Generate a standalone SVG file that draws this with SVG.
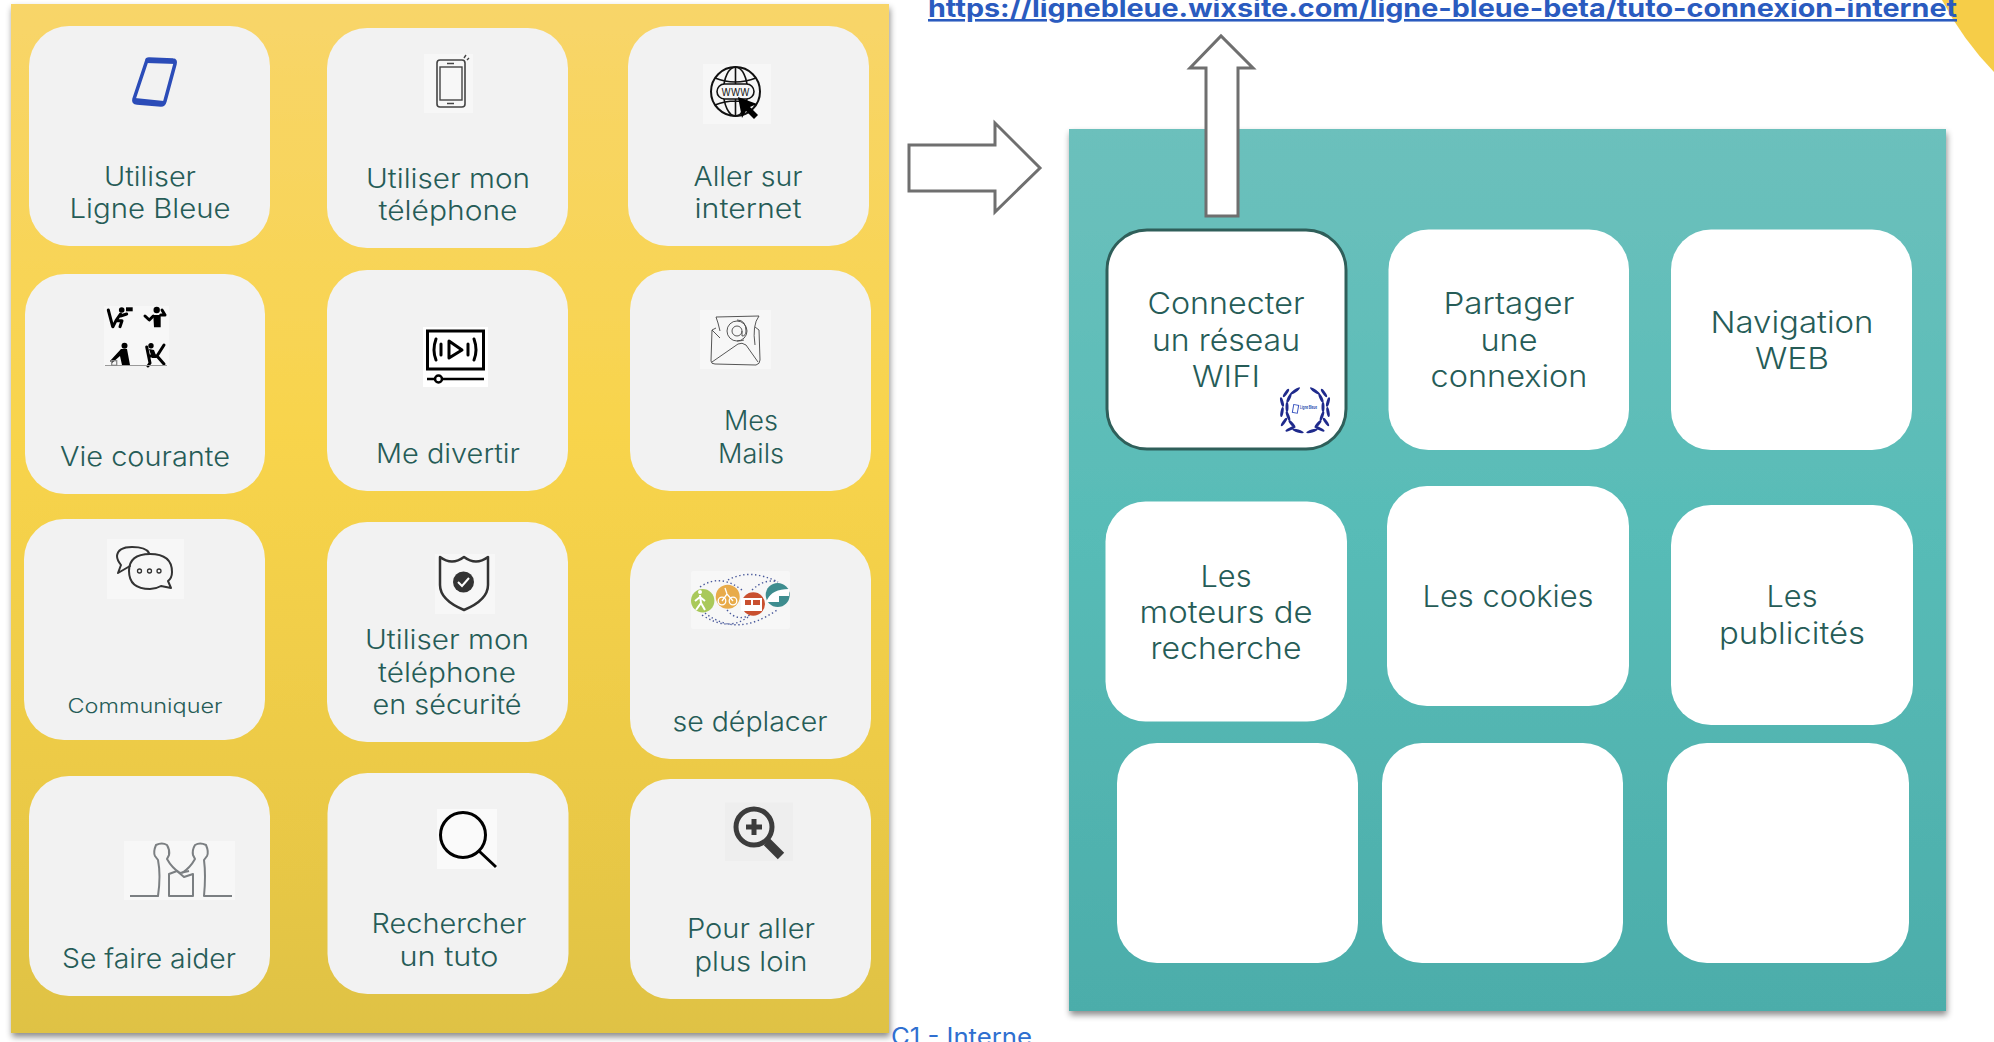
<svg xmlns="http://www.w3.org/2000/svg" width="1994" height="1042" viewBox="0 0 1994 1042">
<style>
text{font-family:"Inter","Liberation Sans",sans-serif}
.l{font-size:27px;font-weight:300;fill:#265c57;text-anchor:middle}
.t{font-size:30px}
.y{fill:#f2f2f2}
.w{fill:#fff}
.b{fill:#f7f7f7}
.ln{fill:none;stroke:#333;stroke-width:2;stroke-linecap:round;stroke-linejoin:round}
.k{fill:none;stroke:#000;stroke-width:3;stroke-linecap:round;stroke-linejoin:round}
.f{fill:#000}
.arrow{fill:#fff;stroke:#6f6f6f;stroke-width:3}
.d{fill:none;stroke:#4a5a9c;stroke-width:1.4;stroke-dasharray:1.4 2.6}
</style>
<defs>
<linearGradient id="gy" x1="0" y1="0" x2="0" y2="1"><stop offset="0" stop-color="#f8d569"/><stop offset=".42" stop-color="#f8d44c"/><stop offset=".75" stop-color="#ecca46"/><stop offset="1" stop-color="#dfc244"/></linearGradient>
<linearGradient id="gt" x1="0" y1="0" x2="0" y2="1"><stop offset="0" stop-color="#6cc0bc"/><stop offset=".45" stop-color="#58bcb7"/><stop offset="1" stop-color="#4cadaa"/></linearGradient>
<filter id="sh" x="-3%" y="-3%" width="106%" height="106%"><feDropShadow dx="1" dy="4" stdDeviation="3" flood-color="#000" flood-opacity=".45"/></filter>
<g id="wside" fill="#1f2a8c">
<ellipse cx="-7" cy="20" rx="6" ry="1.500" transform="rotate(18 -7 20)"/>
<ellipse cx="-15" cy="18" rx="5" ry="1.500" transform="rotate(-25 -15 18)"/>
<ellipse cx="-13" cy="13" rx="5" ry="1.500" transform="rotate(50 -13 13)"/>
<ellipse cx="-21" cy="11" rx="5" ry="1.500" transform="rotate(-55 -21 11)"/>
<ellipse cx="-17" cy="5" rx="5" ry="1.500" transform="rotate(70 -17 5)"/>
<ellipse cx="-23" cy="1" rx="5" ry="1.500" transform="rotate(-80 -23 1)"/>
<ellipse cx="-18" cy="-4" rx="5" ry="1.500" transform="rotate(90 -18 -4)"/>
<ellipse cx="-23" cy="-9" rx="5" ry="1.500" transform="rotate(75 -23 -9)"/>
<ellipse cx="-16" cy="-13" rx="5" ry="1.500" transform="rotate(115 -16 -13)"/>
<ellipse cx="-19" cy="-18" rx="5" ry="1.500" transform="rotate(125 -19 -18)"/>
<ellipse cx="-10" cy="-20" rx="6" ry="1.500" transform="rotate(145 -10 -20)"/>
</g>
</defs>

<path id="corner-arc" d="M1942 0Q1963 40 1994 72V0Z" fill="#f6cd48"/>
<rect id="yellow-panel" x="11" y="4" width="878" height="1029" fill="url(#gy)" filter="url(#sh)"/>
<rect id="teal-panel" x="1069" y="129" width="877" height="882" fill="url(#gt)" filter="url(#sh)"/>

<text id="url" x="928" y="17" font-size="25.500" font-weight="700" fill="#2a5bbf" text-decoration="underline" textLength="1029" lengthAdjust="spacingAndGlyphs">https://lignebleue.wixsite.com/ligne-bleue-beta/tuto-connexion-internet</text>
<text id="classification" x="891" y="1045" font-size="24" fill="#2f6fd0" textLength="141" lengthAdjust="spacingAndGlyphs">C1 - Interne</text>

<g id="connectors">
<path class="arrow" d="M909 145H995V123L1040 168L995 212V191H909Z"/>
<path class="arrow" d="M1206 216V68H1190L1221 36L1253 68H1238V216Z"/>
</g>

<g id="card-utiliser-ligne-bleue">
<rect class="y" x="29" y="26" width="241" height="220" rx="40"/>
<path d="M147 60Q147 59 149 59L173 60Q176 60 175 64L165 101Q164 105 161 105L137 103Q133 103 134 99Z" fill="none" stroke="#2b4cb8" stroke-width="3.500" stroke-linejoin="round"/>
<path d="M135 98L164 101L163 106L134 103ZM147 59L176 60V64L146 63Z" fill="#2b4cb8"/>
<text class="l"><tspan x="150" y="186" textLength="92" lengthAdjust="spacingAndGlyphs">Utiliser</tspan></text>
<text class="l"><tspan x="150" y="218" textLength="161" lengthAdjust="spacingAndGlyphs">Ligne Bleue</tspan></text>
</g>

<g id="card-utiliser-mon-telephone">
<rect class="y" x="327" y="28" width="241" height="220" rx="40"/>
<rect class="b" x="424" y="54" width="49" height="59"/>
<rect x="437" y="60" width="28" height="47" rx="3" fill="none" stroke="#444" stroke-width="1.600"/>
<rect x="440" y="67" width="22" height="33" fill="none" stroke="#444" stroke-width="1.400"/>
<path d="M447 63.500H454M447 103.500H454M464 58L466 55M467 60L469 58" stroke="#444" stroke-width="1.400"/>
<text class="l"><tspan x="448" y="188" textLength="164" lengthAdjust="spacingAndGlyphs">Utiliser mon</tspan></text>
<text class="l"><tspan x="448" y="220" textLength="139" lengthAdjust="spacingAndGlyphs">téléphone</tspan></text>
</g>

<g id="card-aller-sur-internet">
<rect class="y" x="628" y="26" width="241" height="220" rx="40"/>
<rect class="b" x="703" y="64" width="68" height="60"/>
<circle cx="735.500" cy="91.500" r="24.500" fill="none" stroke="#111" stroke-width="2"/>
<ellipse cx="735.500" cy="91.500" rx="12" ry="24.500" fill="none" stroke="#111" stroke-width="1.600"/>
<path d="M735.500 67V116M715 78Q735 86 756 78M715 105Q735 97 756 105" fill="none" stroke="#111" stroke-width="1.600"/>
<rect x="717" y="84" width="37" height="15" rx="7.500" fill="#f7f7f7" stroke="#111" stroke-width="1.600"/>
<text x="735.500" y="96" font-size="11" text-anchor="middle" fill="#111" textLength="28" lengthAdjust="spacingAndGlyphs">WWW</text>
<path d="M738 97L742 118L746 111L754 119L758 115L750 107L757 104Z" fill="#000"/>
<text class="l"><tspan x="748" y="186" textLength="109" lengthAdjust="spacingAndGlyphs">Aller sur</tspan></text>
<text class="l"><tspan x="748" y="218" textLength="107" lengthAdjust="spacingAndGlyphs">internet</tspan></text>
</g>

<g id="card-vie-courante">
<rect class="y" x="25" y="274" width="240" height="220" rx="40"/>
<rect class="b" x="104" y="306" width="65" height="60"/>
<g class="f">
<circle cx="121.700" cy="310" r="2.800"/><circle cx="156.700" cy="310" r="3.200"/><circle cx="124.500" cy="345.700" r="3"/><circle cx="151" cy="345.700" r="2.700"/>
<rect x="126" y="307.300" width="6.700" height="4"/>
<path d="M153.300 315H160.700V327.300H154Z"/>
<path d="M121 349H127L130 365H122L120 356L112 363L110 361Z"/>
<path d="M149 349L154 350L157 358H152Z"/>
</g>
<path class="k" stroke-width="2" d="M108.300 310L112.700 326.700M120.500 314L116 320.700H122L120 326.700M116 320.700L113 326.700M120.500 316L126.700 314M145 316L149.300 320L153.300 316M160.700 315L165 315L162 310M146.700 347L150 363M150 356H157L164 364M157 356L164 345M150 363L148 366"/>
<path d="M105 365.500H167" stroke="#999" stroke-width="1"/>
<rect x="111.700" y="360.700" width="5" height="4.600" fill="none" stroke="#888" stroke-width="1.300"/>
<text class="l"><tspan x="145" y="466" textLength="170" lengthAdjust="spacingAndGlyphs">Vie courante</tspan></text>
</g>

<g id="card-me-divertir">
<rect class="y" x="327" y="270" width="241" height="221" rx="40"/>
<rect fill="#fff" x="423" y="327" width="65" height="60"/>
<rect x="427.500" y="331" width="56" height="38" fill="none" stroke="#000" stroke-width="3"/>
<path d="M449 341V358L462 350Z" fill="none" stroke="#000" stroke-width="3" stroke-linejoin="round"/>
<path class="k" d="M441 344V355M468 344V355M436 339Q432 350 436 360M474 339Q478 350 474 360" stroke-width="2.200"/>
<path d="M427 379H484" stroke="#000" stroke-width="2.500"/>
<circle cx="438.500" cy="379" r="3.500" fill="#fff" stroke="#000" stroke-width="2.500"/>
<text class="l"><tspan x="448" y="463" textLength="144" lengthAdjust="spacingAndGlyphs">Me divertir</tspan></text>
</g>

<g id="card-mes-mails">
<rect class="y" x="630" y="270" width="241" height="221" rx="40"/>
<rect class="b" x="700" y="310" width="71" height="59"/>
<g fill="none" stroke="#444" stroke-width=".9">
<path d="M720 331Q718 322 716 317L759 316Q752 325 755 345"/>
<path d="M712 330L711 361Q711 364 715 364L756 365Q760 364 760 360L759 330L755 327M720 338L712 330L716 328M712 362L738 344Q742 342 746 345L758 362"/>
<circle cx="737" cy="331" r="10"/><circle cx="737" cy="331" r="5"/>
<path d="M742 331V336Q746 336 746 331Q746 320 737 320M737 341Q741 341 744 340"/>
</g>
<text class="l"><tspan x="751" y="430" textLength="54" lengthAdjust="spacingAndGlyphs">Mes</tspan></text>
<text class="l"><tspan x="751" y="463" textLength="66" lengthAdjust="spacingAndGlyphs">Mails</tspan></text>
</g>

<g id="card-communiquer">
<rect class="y" x="24" y="519" width="241" height="221" rx="40"/>
<rect class="b" x="107" y="539" width="77" height="60"/>
<path class="ln" stroke-width="1.500" d="M130 566L118 573L121 565Q117 560 117 556Q118 547 132 547Q146 547 149 553"/>
<path class="ln" stroke-width="1.500" d="M150 554Q172 554 172 572Q172 578 168 581L171 588L161 586Q156 589 150 589Q129 589 129 571Q129 554 150 554Z"/>
<g fill="none" stroke="#333" stroke-width="1.300"><circle cx="139.500" cy="571" r="2"/><circle cx="149.500" cy="571" r="2"/><circle cx="159" cy="571" r="2"/></g>
<text class="l" style="font-size:20px"><tspan x="145" y="712.500" textLength="155" lengthAdjust="spacingAndGlyphs">Communiquer</tspan></text>
</g>

<g id="card-securite">
<rect class="y" x="327" y="522" width="241" height="220" rx="40"/>
<rect class="b" x="435" y="554" width="60" height="60"/>
<path d="M440 557Q452 566 464 557Q476 566 488 557V585Q488 600 464 610Q440 600 440 585Z" fill="none" stroke="#333" stroke-width="2.500" stroke-linejoin="round"/>
<circle cx="463.500" cy="582" r="10.500" fill="#333"/>
<path d="M458 582L462 586L469 578" fill="none" stroke="#fff" stroke-width="2"/>
<text class="l"><tspan x="447" y="649" textLength="164" lengthAdjust="spacingAndGlyphs">Utiliser mon</tspan></text>
<text class="l"><tspan x="447" y="682" textLength="138" lengthAdjust="spacingAndGlyphs">téléphone</tspan></text>
<text class="l"><tspan x="447" y="714" textLength="149" lengthAdjust="spacingAndGlyphs">en sécurité</tspan></text>
</g>

<g id="card-se-deplacer">
<rect class="y" x="630" y="539" width="241" height="220" rx="40"/>
<rect x="691" y="571" width="99" height="58" rx="2" fill="#f7f7f7"/>
<path class="d" d="M700 587Q720 573 742 590"/>
<path class="d" d="M728 580Q750 568 778 582"/>
<path class="d" d="M702 615Q728 632 748 617"/>
<path class="d" d="M705 613Q737 638 777 610"/>
<path class="d" d="M727 610Q737 622 750 615"/>
<path class="d" d="M752 590Q765 578 778 582"/>
<circle cx="702.700" cy="600.700" r="11.700" fill="#a9c95a"/>
<circle cx="727.700" cy="596.700" r="12" fill="#e8ab4a"/>
<circle cx="753.300" cy="604" r="11.700" fill="#c9502f"/>
<circle cx="777.700" cy="595" r="12" fill="#3e8d8f"/>
<circle cx="700" cy="592" r="2" fill="#fff"/>
<path d="M700 595L701 603M701 603L696 610M701 603L705 610M700 597L695 601M700 597L705 601" stroke="#fff" stroke-width="2" fill="none"/>
<g fill="none" stroke="#fff" stroke-width="1.300"><circle cx="722" cy="601" r="3.800"/><circle cx="733" cy="601" r="3.800"/><path d="M722 601L727 594L733 601M727 594L725 588"/></g>
<path d="M741 598H762V611H741Z" fill="#fff"/><rect x="745" y="600" width="6" height="5" fill="#c9502f"/><rect x="753" y="600" width="7" height="5" fill="#c9502f"/>
<path d="M767 600Q772 589 789 589V596H779V602H767Z" fill="#fff"/>
<text class="l"><tspan x="750" y="730.500" textLength="155" lengthAdjust="spacingAndGlyphs">se déplacer</tspan></text>
</g>

<g id="card-se-faire-aider">
<rect class="y" x="29" y="776" width="241" height="220" rx="40"/>
<rect class="b" x="124" y="841" width="111" height="59"/>
<g fill="none" stroke="#7b7f82" stroke-width="2" stroke-linejoin="round">
<path d="M130 896H158Q161 875 158 860L155 856Q153 852 156 845Q162 842 167 845Q170 850 169 855L167 859Q172 868 180 873L189 871"/>
<path d="M232 896H204Q206 875 204 860L207 856Q209 852 206 845Q200 842 195 845Q192 850 193 855L195 859Q190 868 182 873"/>
<path d="M169 874V896H193V874L184 877L177 871Z"/>
</g>
<text class="l"><tspan x="149" y="968" textLength="174" lengthAdjust="spacingAndGlyphs">Se faire aider</tspan></text>
</g>

<g id="card-rechercher-tuto">
<rect class="y" x="327.500" y="773" width="241" height="221" rx="40"/>
<rect fill="#fafafa" x="437" y="809" width="60" height="60"/>
<circle cx="463" cy="835" r="22.500" fill="none" stroke="#000" stroke-width="3"/>
<path d="M479 851L496 867" stroke="#000" stroke-width="3"/>
<text class="l"><tspan x="449" y="933" textLength="155" lengthAdjust="spacingAndGlyphs">Rechercher</tspan></text>
<text class="l"><tspan x="449" y="966" textLength="99" lengthAdjust="spacingAndGlyphs">un tuto</tspan></text>
</g>

<g id="card-pour-aller-plus-loin">
<rect class="y" x="630" y="779" width="241" height="220" rx="40"/>
<rect x="725" y="802.500" width="68" height="58.500" fill="#eeeeee"/>
<circle cx="754" cy="827" r="18" fill="none" stroke="#3c3c3c" stroke-width="5"/>
<path d="M767 842L781 856" stroke="#3c3c3c" stroke-width="9"/>
<path d="M754 819V835M746 827H762" stroke="#3c3c3c" stroke-width="5"/>
<text class="l"><tspan x="751" y="937.500" textLength="128" lengthAdjust="spacingAndGlyphs">Pour aller</tspan></text>
<text class="l"><tspan x="751" y="971" textLength="113" lengthAdjust="spacingAndGlyphs">plus loin</tspan></text>
</g>

<g id="card-connecter-wifi">
<rect class="w" x="1107" y="230" width="239" height="219" rx="40" stroke="#2f5f5a" stroke-width="3"/>
<text class="l t"><tspan x="1226" y="314" textLength="157" lengthAdjust="spacingAndGlyphs">Connecter</tspan></text>
<text class="l t"><tspan x="1226" y="351" textLength="148" lengthAdjust="spacingAndGlyphs">un réseau</tspan></text>
<text class="l t"><tspan x="1226" y="387" textLength="68" lengthAdjust="spacingAndGlyphs">WIFI</tspan></text>
<g transform="translate(1305 411)">
<use href="#wside"/><use href="#wside" transform="scale(-1 1)"/>
<rect x="-12" y="-6" width="5" height="8" fill="none" stroke="#3a55c0" stroke-width="1" transform="rotate(10 -9 -2)"/>
<text x="-5" y="-2" font-size="4.500" font-weight="700" fill="#2a4bb0" textLength="17" lengthAdjust="spacingAndGlyphs">Ligne Bleue</text>
</g>
</g>

<g id="card-partager-connexion">
<rect class="w" x="1388.500" y="229.500" width="240.500" height="220.500" rx="40"/>
<text class="l t"><tspan x="1509" y="314" textLength="131" lengthAdjust="spacingAndGlyphs">Partager</tspan></text>
<text class="l t"><tspan x="1509" y="351" textLength="57" lengthAdjust="spacingAndGlyphs">une</tspan></text>
<text class="l t"><tspan x="1509" y="387" textLength="157" lengthAdjust="spacingAndGlyphs">connexion</tspan></text>
</g>

<g id="card-navigation-web">
<rect class="w" x="1671" y="229.500" width="241" height="220.500" rx="40"/>
<text class="l t"><tspan x="1792" y="333" textLength="163" lengthAdjust="spacingAndGlyphs">Navigation</tspan></text>
<text class="l t"><tspan x="1792" y="369" textLength="74" lengthAdjust="spacingAndGlyphs">WEB</tspan></text>
</g>

<g id="card-moteurs-recherche">
<rect class="w" x="1105.500" y="501.500" width="241.500" height="220" rx="40"/>
<text class="l t"><tspan x="1226" y="587" textLength="51" lengthAdjust="spacingAndGlyphs">Les</tspan></text>
<text class="l t"><tspan x="1226" y="623" textLength="173" lengthAdjust="spacingAndGlyphs">moteurs de</tspan></text>
<text class="l t"><tspan x="1226" y="659" textLength="151" lengthAdjust="spacingAndGlyphs">recherche</tspan></text>
</g>

<g id="card-cookies">
<rect class="w" x="1387" y="486" width="242" height="220" rx="40"/>
<text class="l t"><tspan x="1508" y="607" textLength="171" lengthAdjust="spacingAndGlyphs">Les cookies</tspan></text>
</g>

<g id="card-publicites">
<rect class="w" x="1671" y="505" width="242" height="220" rx="40"/>
<text class="l t"><tspan x="1792" y="607" textLength="51" lengthAdjust="spacingAndGlyphs">Les</tspan></text>
<text class="l t"><tspan x="1792" y="644" textLength="146" lengthAdjust="spacingAndGlyphs">publicités</tspan></text>
</g>

<g id="card-empty-1"><rect class="w" x="1117" y="743" width="241" height="220" rx="40"/></g>
<g id="card-empty-2"><rect class="w" x="1382" y="743" width="241" height="220" rx="40"/></g>
<g id="card-empty-3"><rect class="w" x="1667" y="743" width="242" height="220" rx="40"/></g>
</svg>
